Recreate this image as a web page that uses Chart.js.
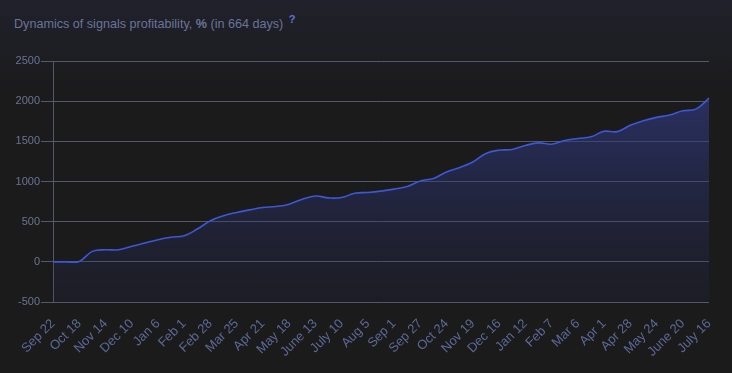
<!DOCTYPE html>
<html>
<head>
<meta charset="utf-8">
<script src="https://cdn.jsdelivr.net/npm/chart.js@4"></script>
<style>
  html, body { margin: 0; padding: 0; }
  body {
    width: 732px; height: 373px; overflow: hidden; position: relative;
    background: linear-gradient(to bottom, #20212a 0px, #1e1f25 40px, #1b1b1c 90px, #1b1b1b 373px);
    font-family: "Liberation Sans", Arial, sans-serif;
  }
  #title {
    position: absolute; left: 14px; top: 13px;
    font-size: 12.6px; color: #6b7397;
  }
  #title b { font-weight: bold; }
  #title sup { color: #5d72d6; font-size: 11px; margin-left: 2px; font-weight: bold; }
  #wrap { position: absolute; left: 0; top: 0; width: 732px; height: 373px; }
</style>
</head>
<body>
<div id="title">Dynamics of signals profitability, <b>%</b> (in 664 days) <sup>?</sup></div>
<div id="wrap"><canvas id="myChart"></canvas></div>
<script>
// tick labels on the x axis (one every other data point)
const tickLabels = ['Sep 22', 'Oct 18', 'Nov 14', 'Dec 10', 'Jan 6', 'Feb 1', 'Feb 28', 'Mar 25',
  'Apr 21', 'May 18', 'June 13', 'July 10', 'Aug 5', 'Sep 1', 'Sep 27', 'Oct 24', 'Nov 19',
  'Dec 16', 'Jan 12', 'Feb 7', 'Mar 6', 'Apr 1', 'Apr 28', 'May 24', 'June 20', 'July 16'];

// profitability, %
const profit = [0, 0, 5, 130, 150, 150, 194, 235, 276, 306, 325, 408, 511, 573, 615, 647, 677,
  689, 718, 780, 820, 796, 800, 854, 863, 880, 905, 938, 1007, 1037, 1119, 1173, 1242, 1349,
  1390, 1399, 1448, 1481, 1464, 1510, 1535, 1556, 1625, 1621, 1699, 1757, 1798, 1827, 1880,
  1901, 2037];

const yTicks = [-500, 0, 500, 1000, 1500, 2000, 2500];

const labels = [];
for (let i = 0; i < profit.length; i++) {
  labels.push(i % 2 === 0 ? tickLabels[i / 2] : '');
}

const ctx = document.getElementById('myChart');
const myChart = new Chart(ctx, {
  type: 'line',
  data: {
    labels: labels,
    datasets: [{
      data: profit,
      borderColor: '#3d57d6',
      borderWidth: 1.6,
      pointRadius: 0,
      tension: 0.4,
      fill: 'start',
      backgroundColor: function(c) {
        const area = c.chart.chartArea;
        if (!area) return 'rgba(50,60,140,0.4)';
        const g = c.chart.ctx.createLinearGradient(0, area.top, 0, area.bottom);
        g.addColorStop(0, 'rgba(52,62,140,0.75)');
        g.addColorStop(1, 'rgba(40,46,100,0.12)');
        return g;
      }
    }]
  },
  options: {
    responsive: true,
    maintainAspectRatio: false,
    animation: false,
    layout: { padding: { top: 61, right: 23, left: 0, bottom: 0 } },
    plugins: { legend: { display: false }, tooltip: { enabled: false } },
    scales: {
      x: {
        grid: { display: false, drawTicks: true, tickLength: 6 },
        border: { display: false },
        ticks: {
          autoSkip: false, minRotation: 45, maxRotation: 45, padding: 8,
          color: '#5d6896', font: { size: 13, family: '"Liberation Sans", Arial' }
        },
        afterFit: function(s) { s.height = 71; }
      },
      y: {
        min: -500, max: 2500,
        afterBuildTicks: function(s) { s.ticks = yTicks.map(v => ({ value: v })); },
        grid: { color: '#55586a', lineWidth: 1, tickLength: 12 },
        border: { color: '#55586a' },
        ticks: {
          padding: 1, color: '#6b7394',
          font: { size: 11, family: '"Liberation Sans", Arial' },
          callback: function(v) { return String(v); }
        },
        afterFit: function(s) { s.width = 53; }
      }
    }
  }
});
</script>
</body>
</html>
